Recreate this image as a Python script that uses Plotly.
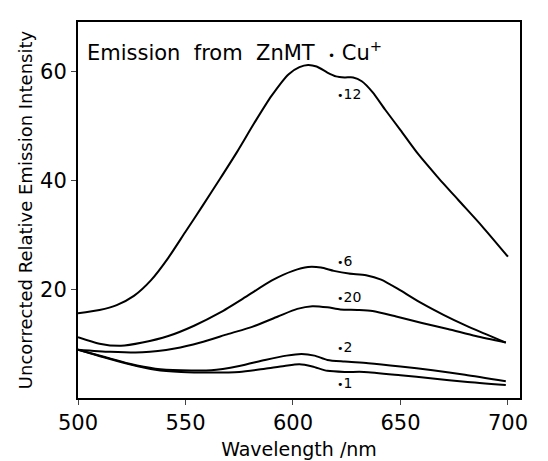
import plotly.graph_objects as go

# Curve data (wavelength nm, intensity)
wl_12 = [500, 510, 518, 526, 534, 542, 550, 558, 566, 574, 582, 590, 598, 603, 607, 611, 616, 620, 624, 628, 632, 637, 643, 650, 658, 667, 677, 688, 700]
int_12 = [15.6, 16.2, 17.1, 18.8, 21.7, 25.8, 30.6, 35.4, 40.3, 45.3, 50.6, 55.6, 59.6, 60.9, 61.3, 61.0, 59.9, 59.2, 59.0, 59.0, 58.3, 56.3, 53.0, 49.3, 45.0, 40.8, 36.4, 31.6, 26.0]

wl_6 = [500, 510, 520, 530, 542, 554, 566, 578, 590, 600, 607, 613, 619, 626, 634, 641, 650, 660, 670, 680, 690, 699]
int_6 = [11.2, 10.0, 9.6, 10.2, 11.4, 13.3, 15.7, 18.6, 21.6, 23.4, 24.1, 24.0, 23.4, 22.9, 22.6, 21.8, 19.8, 17.4, 15.3, 13.4, 11.7, 10.2]

wl_20 = [500, 515, 530, 545, 557, 570, 581, 593, 602, 609, 616, 622, 630, 637, 648, 660, 672, 685, 699]
int_20 = [8.9, 8.5, 8.4, 9.1, 10.2, 11.8, 13.1, 15.0, 16.4, 16.9, 16.7, 16.3, 16.2, 16.0, 15.0, 13.8, 12.7, 11.4, 10.2]

wl_2 = [500, 512, 524, 536, 548, 562, 575, 587, 597, 604, 610, 616, 624, 635, 650, 665, 680, 699]
int_2 = [8.9, 7.6, 6.3, 5.4, 5.1, 5.1, 5.9, 7.0, 7.8, 8.1, 7.8, 7.0, 6.7, 6.4, 5.8, 5.1, 4.3, 3.1]

wl_1 = [500, 512, 524, 536, 548, 562, 575, 587, 596, 603, 609, 616, 624, 633, 650, 665, 680, 699]
int_1 = [8.9, 7.5, 6.2, 5.2, 4.8, 4.7, 4.8, 5.4, 5.9, 6.2, 5.8, 5.0, 4.8, 4.8, 4.2, 3.6, 3.0, 2.4]

label_text = ["12", "6", "20", "2", "1"]
label_x = [619.5, 619.5, 619.5, 619.5, 619.5]
label_y = [55.9, 25.2, 18.5, 9.3, 2.7]

x_ticks = [500, 550, 600, 650, 700]
y_ticks = [20, 40, 60]

FONT = "DejaVu Sans"

fig = go.Figure()
for wl, it in [(wl_12, int_12), (wl_6, int_6), (wl_20, int_20), (wl_2, int_2), (wl_1, int_1)]:
    fig.add_trace(go.Scatter(x=wl, y=it, mode="lines",
                             line=dict(color="black", width=2, shape="spline", smoothing=0.7),
                             showlegend=False, hoverinfo="skip"))

for t, x, y in zip(label_text, label_x, label_y):
    fig.add_annotation(x=x, y=y, text="<span style='font-size:11px'>•</span>" + t, showarrow=False,
                       xanchor="left", yanchor="middle",
                       font=dict(family=FONT, size=14, color="black"))

fig.add_annotation(x=0.015, y=0.965, xref="paper", yref="paper",
                   text="Emission  from  ZnMT  <span style='font-size:12px'>•</span> Cu<sup>+</sup>",
                   showarrow=False, xanchor="left", yanchor="top",
                   font=dict(family=FONT, size=21, color="black"))

fig.update_layout(
    width=548, height=461,
    margin=dict(l=70, r=36, t=14, b=61),
    paper_bgcolor="white", plot_bgcolor="white",
    font=dict(family=FONT, color="black"),
)
fig.update_xaxes(range=[500, 705.6], tickvals=x_ticks, ticks="outside", ticklen=5,
                 showline=True, linecolor="black", linewidth=2, mirror=True,
                 showgrid=False, zeroline=False,
                 tickfont=dict(family=FONT, size=21),
                 title=dict(text="Wavelength /nm", font=dict(family=FONT, size=19), standoff=8))
fig.update_yaxes(range=[0, 69.2], tickvals=y_ticks, ticks="outside", ticklen=5,
                 showline=True, linecolor="black", linewidth=2, mirror=True,
                 showgrid=False, zeroline=False,
                 tickfont=dict(family=FONT, size=21),
                 title=dict(text="Uncorrected Relative Emission Intensity", font=dict(family=FONT, size=18), standoff=3))

fig.write_html("out.html")
